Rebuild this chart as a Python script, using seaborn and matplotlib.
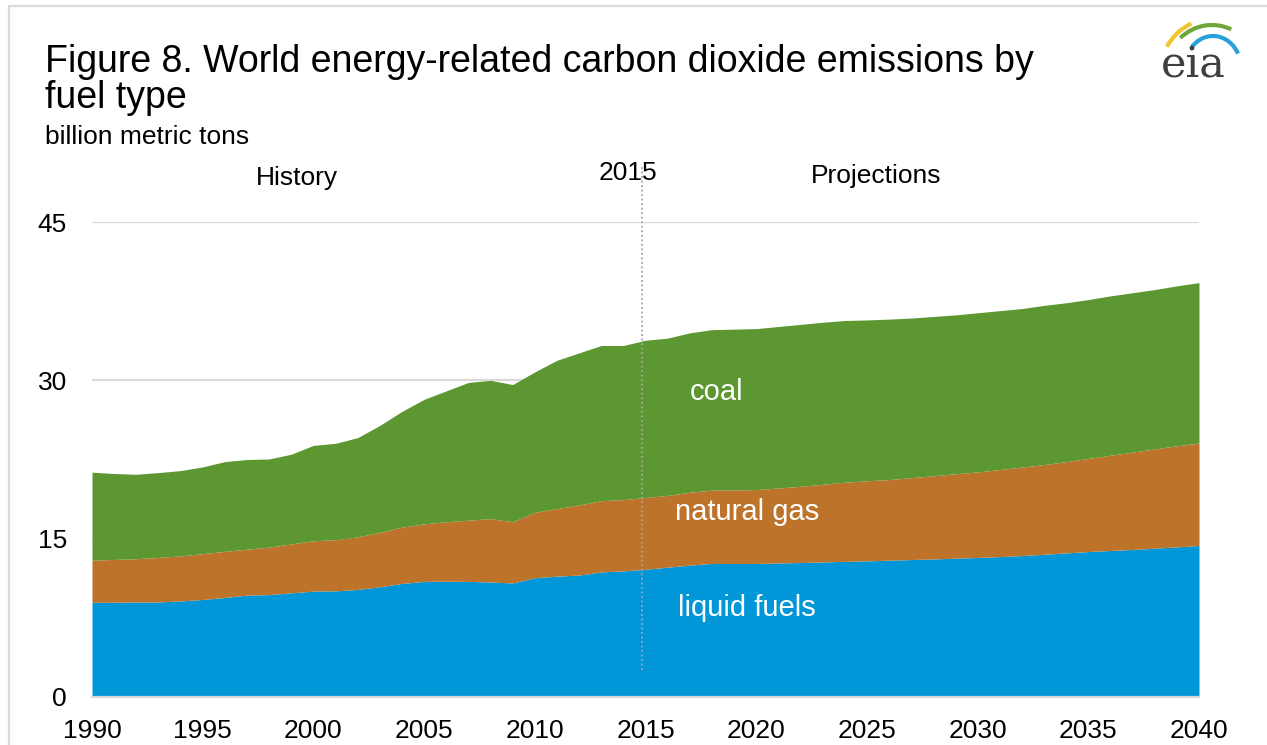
import numpy as np
import pandas as pd
import matplotlib
matplotlib.use("Agg")
import matplotlib.pyplot as plt
from matplotlib.patches import Arc
from matplotlib.lines import Line2D
import seaborn as sns

# World energy-related CO2 emissions by fuel type, billion metric tons
years = list(range(1990, 2041))

liquid_fuels = [
    8.96, 8.98, 9.00, 9.00, 9.10, 9.24, 9.43, 9.65, 9.70, 9.87,
    10.03, 10.06, 10.19, 10.44, 10.76, 10.95, 10.97, 10.95, 10.90, 10.80,
    11.30, 11.45, 11.55, 11.85, 11.95, 12.10, 12.30, 12.50, 12.65, 12.65,
    12.65, 12.70, 12.74, 12.80, 12.85, 12.90, 12.96, 13.02, 13.08, 13.15,
    13.22, 13.30, 13.40, 13.52, 13.65, 13.78, 13.88, 13.98, 14.10, 14.22,
    14.35,
]
natural_gas = [
    4.00, 4.05, 4.10, 4.22, 4.27, 4.34, 4.37, 4.35, 4.50, 4.63,
    4.77, 4.84, 4.98, 5.16, 5.34, 5.45, 5.63, 5.80, 6.00, 5.80,
    6.20, 6.40, 6.65, 6.75, 6.75, 6.80, 6.80, 6.90, 6.95, 6.97,
    7.00, 7.10, 7.22, 7.35, 7.50, 7.58, 7.64, 7.76, 7.88, 8.00,
    8.10, 8.25, 8.38, 8.50, 8.65, 8.82, 9.02, 9.22, 9.40, 9.58,
    9.71,
]
coal = [
    8.34, 8.14, 8.00, 8.04, 8.08, 8.22, 8.50, 8.50, 8.35, 8.50,
    9.04, 9.13, 9.40, 10.13, 10.96, 11.80, 12.40, 13.05, 13.10, 13.00,
    13.30, 14.05, 14.40, 14.70, 14.60, 14.90, 14.90, 15.10, 15.20, 15.23,
    15.25, 15.30, 15.34, 15.35, 15.32, 15.24, 15.20, 15.12, 15.09, 15.05,
    15.08, 15.05, 15.02, 15.08, 15.05, 15.05, 15.10, 15.10, 15.10, 15.15,
    15.20,
]

fuel_names = ["coal", "natural gas", "liquid fuels"]
fuel_colors = {"coal": "#5D9732", "natural gas": "#BD732A", "liquid fuels": "#0096D7"}
y_ticks = [0, 15, 30, 45]
x_ticks = list(range(1990, 2041, 5))

df = pd.concat([
    pd.DataFrame({"year": years, "value": coal, "fuel": "coal"}),
    pd.DataFrame({"year": years, "value": natural_gas, "fuel": "natural gas"}),
    pd.DataFrame({"year": years, "value": liquid_fuels, "fuel": "liquid fuels"}),
], ignore_index=True)

sns.set_theme(style="white")
plt.rcParams["font.family"] = ["Liberation Sans", "DejaVu Sans"]
plt.rcParams["text.color"] = "black"
plt.rcParams["xtick.labelcolor"] = "black"
plt.rcParams["ytick.labelcolor"] = "black"

W, H = 1267, 745
fig = plt.figure(figsize=(W / 100, H / 100), dpi=100)
fig.patch.set_facecolor("white")


def fx(px):
    return px / W


def fy(py):
    return 1 - py / H


ax = fig.add_axes([fx(92), fy(697), fx(1199) - fx(92), fy(222) - fy(697)])

# stacked areas: first hue level ends on top
sns.histplot(
    data=df, x="year", weights="value", hue="fuel",
    hue_order=fuel_names, palette=fuel_colors,
    multiple="stack", element="poly", discrete=True,
    alpha=1, linewidth=0, legend=False, ax=ax,
)

ax.set_xlim(1990, 2040)
ax.set_ylim(0, 45)
ax.set_xlabel("")
ax.set_ylabel("")
ax.set_xticks(x_ticks)
ax.set_yticks(y_ticks)
ax.set_xticklabels([str(v) for v in x_ticks], fontsize=19, color="black")
ax.set_yticklabels([str(v) for v in y_ticks], fontsize=19, color="black")

grid_c = "#D9D9D9"
for v in y_ticks[1:]:
    ax.axhline(v, color=grid_c, lw=1.6, zorder=0)
for s in ["left", "right", "top"]:
    ax.spines[s].set_visible(False)
ax.spines["bottom"].set_color(grid_c)
ax.spines["bottom"].set_linewidth(1.6)
ax.spines["bottom"].set_zorder(5)
ax.tick_params(axis="x", direction="out", length=8, width=1.6, color=grid_c, pad=8)
ax.tick_params(axis="y", length=0, pad=18)
ax.set_facecolor("white")

# 2015 divider between history and projections
ax.plot([2014.85, 2014.85], [2.6, 50.4], ls=(0, (1, 1.5)), color="#A6A6A6",
        lw=1.3, clip_on=False, zorder=6)
ax.text(2014.2, 49.6, "2015", ha="center", va="center", fontsize=19, clip_on=False)
ax.text(1999.26, 49.2, "History", ha="center", va="center", fontsize=19, clip_on=False)
ax.text(2025.4, 49.35, "Projections", ha="center", va="center", fontsize=19, clip_on=False)

# in-area labels
ax.text(2018.2, 28.9, "coal", ha="center", va="center", fontsize=21, color="white")
ax.text(2019.6, 17.5, "natural gas", ha="center", va="center", fontsize=21, color="white")
ax.text(2019.6, 8.4, "liquid fuels", ha="center", va="center", fontsize=21, color="white")

# titles
fig.text(fx(45), fy(72), "Figure 8. World energy-related carbon dioxide emissions by",
         fontsize=27, va="baseline", ha="left")
fig.text(fx(45), fy(108), "fuel type", fontsize=27, va="baseline", ha="left")
fig.text(fx(45), fy(144), "billion metric tons", fontsize=19, va="baseline", ha="left")

# light frame on left and top
fig.add_artist(Line2D([fx(8.5), fx(8.5)], [0, fy(5.5)], color=grid_c, lw=1.6))
fig.add_artist(Line2D([fx(8.5), 1], [fy(5.5), fy(5.5)], color=grid_c, lw=1.6))

# logo
lax = fig.add_axes([fx(1150), fy(95), fx(100), fy(0) - fy(95)])
lax.set_xlim(1150, 1250)
lax.set_ylim(95, 0)
lax.set_aspect("equal")
lax.axis("off")
lax.add_patch(Arc((1212, 77), 106, 116, theta1=214, theta2=249, color="#F2C42E", lw=3.0))
lax.add_patch(Arc((1212, 77), 96, 104, theta1=231, theta2=292, color="#6FA73A", lw=3.0))
lax.add_patch(Arc((1213, 68), 56, 64, theta1=225, theta2=330, color="#2AA1DB", lw=3.0))
lax.text(1193, 77, "eia", fontsize=31, family="DejaVu Serif", color="#3F3F3F",
         ha="center", va="baseline")

fig.savefig("out.png", dpi=100, facecolor="white")
